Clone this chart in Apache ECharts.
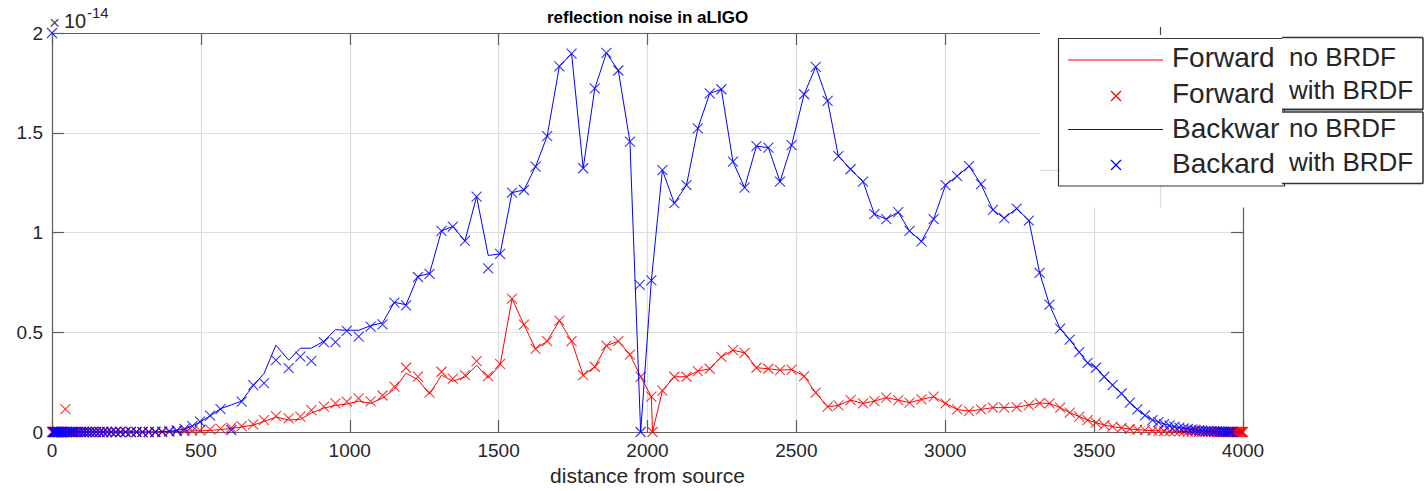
<!DOCTYPE html>
<html><head><meta charset="utf-8">
<script src="https://cdn.jsdelivr.net/npm/echarts/dist/echarts.min.js"></script>
<style>html,body{margin:0;padding:0;background:#fff}#c{width:1425px;height:491px}</style>
</head><body><div id="c"></div>
<script>
// distance from source (shared sample positions)
const distance = [
  0,3,6,9,12,16,20,24,29,34,39,45,51,58,65,72,80,88,97,106,116,126,137,148,160,172,185,199,214,230,247,265,284,304,325,347,370,394,419,445,471,
  497,531,566,602,637,676,712,752,795,834,871,913,952,990,1030,1070,1110,1150,1189,1229,1268,1308,1346,1387,1426,1465,1505,1545,1585,1624,1663,1704,1745,1784,1823,1862,1902,1941,
  1974,1977,2013,2017,
  2050,2090,2131,2169,2209,2248,2287,2326,2366,2406,2445,2484,2526,2565,2605,2641,2682,2724,2762,2802,2842,2880,2920,2961,3001,3040,3080,3120,3160,3198,3240,3281,3317,3350,
  3386,3418,3450,3478,3506,3534,3562,3592,3620,3645,3671,3696,3716,3735,3753,3770,3786,3801,3815,3828,3840,3852,3863,3874,3884,3894,3903,3912,3920,3928,3935,3942,3949,3955,3961,3966,3971,3976,3980,3984,3988,3991,3994,3997,4000
];
// values in units of 1e-14
const forwardNoBRDF = [
  0,0,0,0,0,0,0,0,0,0,0,0,0,0,0,0,0,0,0,0,0,0,0,0,0,0,0,0,0,0,0,0,0,0,0,0,0,0.002,0.003,0.004,0.006,
  0.005,0.008,0.012,0.018,0.025,0.035,0.053,0.075,0.06,0.063,0.095,0.12,0.133,0.14,0.155,0.143,0.17,0.215,0.295,0.262,0.19,0.285,0.255,0.275,0.335,0.27,0.335,0.668,0.538,0.417,0.455,0.558,0.455,0.285,0.327,0.433,0.455,0.388,
  null,0.277,0.177,0,
  0.207,0.277,0.277,0.305,0.317,0.377,0.41,0.397,0.322,0.317,0.31,0.313,0.28,0.197,0.127,0.133,0.16,0.143,0.155,0.172,0.16,0.147,0.163,0.177,0.143,0.113,0.105,0.113,0.122,0.122,0.125,0.135,0.145,0.143,
  0.122,0.097,0.077,0.06,0.047,0.035,0.027,0.02,0.015,0.012,0.009,0.007,0.006,0.005,0.004,0.004,0.003,0.003,0.002,0.002,0.002,0.001,0.001,0.001,0.001,0.001,0,0,0,0,0,0,0,0,0,0,0,0,0,0,0,0,0,0,0
];
const forwardWithBRDF = [
  0,0,0,0,0,0,0,0,0,0,0,0.115,0,0,0,0,0,0,0,0,0,0,0,0,0,0,0,0,0,0,0,0,0,0,0,0,0,0.002,0.004,0.005,0.007,
  0.008,0.013,0.017,0.022,0.03,0.038,0.06,0.08,0.068,0.077,0.11,0.127,0.143,0.152,0.168,0.153,0.183,0.228,0.322,0.278,0.197,0.302,0.267,0.285,0.355,0.28,0.342,0.668,0.538,0.417,0.455,0.558,0.455,0.285,0.327,0.433,0.455,0.388,
  null,0.277,0.177,0,
  0.207,0.277,0.277,0.305,0.317,0.377,0.41,0.397,0.322,0.317,0.31,0.313,0.28,0.197,0.127,0.133,0.16,0.143,0.155,0.172,0.16,0.147,0.163,0.177,0.143,0.113,0.105,0.113,0.122,0.122,0.125,0.135,0.145,0.143,
  0.122,0.097,0.077,0.06,0.047,0.035,0.027,0.02,0.015,0.012,0.009,0.007,0.006,0.005,0.004,0.004,0.003,0.003,0.002,0.002,0.002,0.001,0.001,0.001,0.001,0.001,0,0,0,0,0,0,0,0,0,0,0,0,0,0,0,0,0,0,0
];
const backwardNoBRDF = [
  0,0,0,0,0,0,0,0,0,0,0,0,0,0,0,0,0,0,0,0,0,0,0,0,0,0,0,0,0,0,0,0,0,0,0,0,0.002,0.004,0.008,0.015,0.03,
  0.05,0.08,0.117,0.136,0.155,0.233,0.293,0.435,0.36,0.42,0.42,0.455,0.513,0.51,0.51,0.533,0.547,0.65,0.638,0.78,0.795,1.008,1.03,0.958,1.18,0.885,0.893,1.2,1.213,1.33,1.483,1.833,1.897,1.322,1.722,1.9,1.812,1.455,
  null,0,0.76,null,
  1.313,1.147,1.238,1.522,1.697,1.718,1.355,1.225,1.433,1.425,1.255,1.438,1.693,1.83,1.66,1.383,1.317,1.255,1.092,1.067,1.102,1.008,0.955,1.067,1.238,1.283,1.333,1.243,1.113,1.072,1.12,1.06,0.798,0.638,
  0.518,0.463,0.4,0.347,0.322,0.277,0.235,0.193,0.147,0.113,0.083,0.06,0.05,0.04,0.033,0.027,0.022,0.018,0.015,0.012,0.01,0.008,0.007,0.006,0.005,0.004,0.003,0.003,0.002,0.002,0.002,0.001,0.001,0.001,0.001,0,0,0,0,0,0,0,0,0,0
];
const backwardWithBRDF = [
  2.0,0,0,0,0,0,0,0,0,0,0,0,0,0,0,0,0,0,0,0,0,0,0,0,0,0,0,0,0,0,0,0,0,0,0,0,0.002,0.004,0.008,0.016,0.03,
  0.052,0.082,0.115,0.01,0.152,0.235,0.245,0.36,0.32,0.378,0.357,0.45,0.45,0.507,0.478,0.528,0.54,0.648,0.635,0.777,0.793,1.008,1.03,0.958,1.18,0.82,0.893,1.2,1.213,1.33,1.483,1.833,1.897,1.322,1.722,1.9,1.812,1.455,
  0.737,0,0.76,null,
  1.313,1.147,1.238,1.522,1.697,1.718,1.355,1.225,1.433,1.425,1.255,1.438,1.693,1.83,1.66,1.383,1.317,1.255,1.092,1.067,1.102,1.008,0.955,1.067,1.238,1.283,1.333,1.243,1.113,1.072,1.12,1.06,0.798,0.638,
  0.518,0.463,0.4,0.347,0.322,0.277,0.235,0.193,0.147,0.113,0.083,0.06,0.05,0.04,0.033,0.027,0.022,0.018,0.015,0.012,0.01,0.008,0.007,0.006,0.005,0.004,0.003,0.003,0.002,0.002,0.002,0.001,0.001,0.001,0.001,null,null,null,null,null,null,null,null,null,null
];
const xTicks = [0, 4000, 500];
const yTicks = [0, 2, 0.5];
const titleText = 'reflection noise in aLIGO';
const xName = 'distance from source';
const legendNames = ['Forward', 'Forward', 'Backwar', 'Backard'];
const legendSuffix = ['no BRDF', 'with BRDF', 'no BRDF', 'with BRDF'];

function pairs(vals) {
  const out = [];
  for (let i = 0; i < distance.length; i++) if (vals[i] !== null && vals[i] !== undefined) out.push([distance[i], vals[i]]);
  return out;
}
const F = '"Liberation Sans", Arial, Helvetica, sans-serif';
const AX = '#5f5f5f';
const TXT = '#262626';
const cross = 'path://M0,0L10,10M10,0L0,10';

const baseAxis = {
  type: 'value',
  axisLine: { show: true, onZero: false, lineStyle: { color: AX, width: 1.2 } },
  axisTick: { show: true, inside: true, length: 12, lineStyle: { color: AX, width: 1.2 } },
  splitLine: { show: false }
};
function xa(pos, main) {
  return Object.assign({}, baseAxis, {
    position: pos, min: xTicks[0], max: xTicks[1], interval: xTicks[2],
    axisLabel: main ? { show: true, color: TXT, fontSize: 19, fontFamily: F, margin: 9, formatter: v => String(v) } : { show: false },
    splitLine: main ? { show: true, lineStyle: { color: '#dcdcdc', width: 1.2 } } : { show: false },
    name: main ? xName : '', nameLocation: 'middle', nameGap: 33,
    nameTextStyle: { color: TXT, fontSize: 21, fontFamily: F }
  });
}
function ya(pos, main) {
  return Object.assign({}, baseAxis, {
    position: pos, min: yTicks[0], max: yTicks[1], interval: yTicks[2],
    axisLabel: main ? { show: true, color: TXT, fontSize: 19, fontFamily: F, margin: 9, formatter: v => String(v) } : { show: false },
    splitLine: main ? { show: true, lineStyle: { color: '#dcdcdc', width: 1.2 } } : { show: false }
  });
}

const chart = echarts.init(document.getElementById('c'), null, { renderer: 'svg' });
const g = [];
function txt(x, y, s, font, align, fill) {
  g.push({ type: 'text', x: x, y: y, z: 110, style: { text: s, font: font, fill: fill || TXT, align: align || 'left', verticalAlign: 'middle' } });
}
function ln(x1, y1, x2, y2, stroke, w, z) {
  g.push({ type: 'line', z: z || 105, shape: { x1: x1, y1: y1, x2: x2, y2: y2 }, style: { stroke: stroke, lineWidth: w || 1.2 } });
}
// title and exponent
txt(647.5, 17, titleText, 'bold 17px ' + F, 'center', '#000');
txt(49, 22, '\u00d7', '19px ' + F, 'left', '#555');
txt(64, 21, '10', '20px ' + F, 'left');
txt(87, 12, '-14', '15px ' + F, 'left');
// white cover over the top-right part
g.push({ type: 'rect', z: 100, shape: { x: 1040, y: 0, width: 385, height: 207.5 }, style: { fill: '#fff' } });
ln(1040, 170.5, 1058, 170.5, '#dcdcdc', 1.2, 101);
ln(1160.5, 186, 1160.5, 207.5, '#dcdcdc', 1.2, 101);
ln(1160.5, 27, 1160.5, 35, '#444', 1.2, 101);
// legend box
g.push({ type: 'rect', z: 102, shape: { x: 1058.5, y: 38.5, width: 226, height: 147.5 }, style: { fill: '#fff', stroke: '#333', lineWidth: 1.2 } });
ln(1068, 60, 1163, 60, '#ff0000', 1.2, 106);
ln(1111, 91, 1121, 101, '#ff0000', 1.2, 106); ln(1121, 91, 1111, 101, '#ff0000', 1.2, 106);
ln(1068, 129.5, 1163, 129.5, '#0000ff', 1.2, 106);
ln(1111, 160, 1121, 170, '#0000ff', 1.2, 106); ln(1121, 160, 1111, 170, '#0000ff', 1.2, 106);
const rowY = [57.5, 93, 128, 163];
legendNames.forEach((s, i) => txt(1172, rowY[i], s, '28px ' + F));
// pasted patches
g.push({ type: 'rect', z: 107, shape: { x: 1282, y: 37.5, width: 141, height: 72 }, style: { fill: '#fff' } });
g.push({ type: 'rect', z: 107, shape: { x: 1282, y: 111.5, width: 141, height: 72 }, style: { fill: '#fff' } });
ln(1282, 37.5, 1423, 37.5, '#333', 1.5, 108);
ln(1423, 37.5, 1423, 109.5, '#333', 1.5, 108);
ln(1282, 109.5, 1423, 109.5, '#333', 2, 108);
ln(1282, 112, 1423, 112, '#333', 1.5, 108);
ln(1423, 112, 1423, 183.5, '#333', 1.5, 108);
ln(1282, 183.5, 1423, 183.5, '#333', 1.5, 108);
const sufY = [56.7, 90, 128.3, 161.7];
legendSuffix.forEach((s, i) => txt(1289, sufY[i], s, '26px ' + F));

chart.setOption({
  animation: false,
  backgroundColor: '#fff',
  grid: { left: 52, right: 182, top: 33, bottom: 58, show: false },
  xAxis: [xa('bottom', true), xa('top', false)],
  yAxis: [ya('left', true), ya('right', false)],
  series: [
    { name: 'Forward no BRDF', type: 'line', data: pairs(forwardNoBRDF), showSymbol: false, symbol: 'none',
      lineStyle: { color: '#ff0000', width: 1 }, z: 2 },
    { name: 'Forward with BRDF', type: 'scatter', data: pairs(forwardWithBRDF), symbol: cross, symbolSize: 10,
      itemStyle: { color: 'rgba(0,0,0,0)', borderColor: '#ff0000', borderWidth: 1.1 }, z: 3 },
    { name: 'Backward no BRDF', type: 'line', data: pairs(backwardNoBRDF), showSymbol: false, symbol: 'none',
      lineStyle: { color: '#0000ff', width: 1 }, z: 4 },
    { name: 'Backard with BRDF', type: 'scatter', data: pairs(backwardWithBRDF), symbol: cross, symbolSize: 10,
      itemStyle: { color: 'rgba(0,0,0,0)', borderColor: '#0000ff', borderWidth: 1.1 }, z: 5 }
  ],
  graphic: g
});
</script></body></html>
